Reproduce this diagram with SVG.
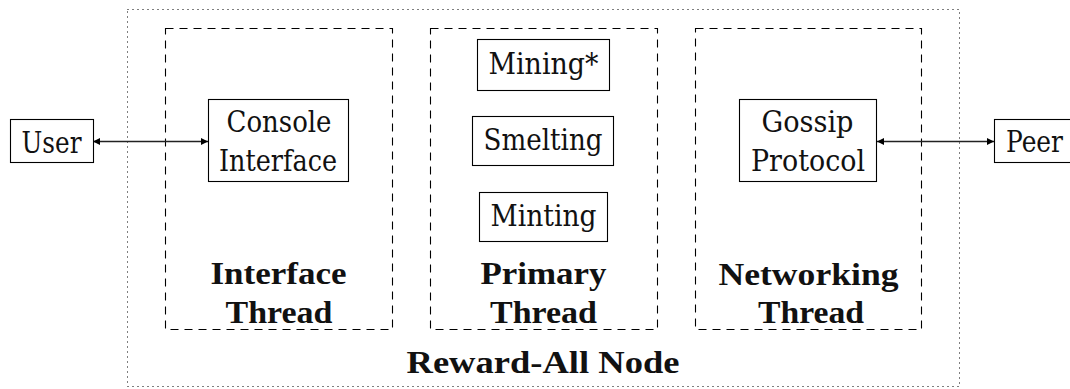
<svg xmlns="http://www.w3.org/2000/svg" width="1070" height="389" viewBox="0 0 1070 389">
  <style>
    .box { fill: #ffffff; stroke: #000000; stroke-width: 1.1; }
    .thread { fill: none; stroke: #000000; stroke-width: 1.1; stroke-dasharray: 8 6; }
    .outer { fill: none; stroke: #000000; stroke-width: 1.1; stroke-dasharray: 1 4; }
    .lbl { font-family: "DejaVu Serif", "Liberation Serif", serif; font-size: 29px; font-weight: normal; fill: #111111; text-anchor: middle; }
    .bold { font-family: "Liberation Serif", "DejaVu Serif", serif; font-size: 31px; font-weight: bold; fill: #111111; text-anchor: middle; }
    .conn { stroke: #222222; stroke-width: 1.3; fill: none; }
  </style>
  <defs>
    <marker id="arrow" viewBox="0 0 10 10" refX="10" refY="5" markerWidth="8" markerHeight="7" markerUnits="userSpaceOnUse" orient="auto-start-reverse">
      <path d="M0,0 L10,5 L0,10 Z" fill="#000000"/>
    </marker>
  </defs>

  <rect width="1070" height="389" fill="#ffffff"/>

  <g id="reward-all-node">
    <rect class="outer" x="127.5" y="9.5" width="832" height="377"/>
    <text class="bold" x="543" y="372.5" textLength="273" lengthAdjust="spacingAndGlyphs">Reward-All Node</text>
  </g>

  <g id="interface-thread">
    <rect class="thread" x="165.5" y="28.5" width="227" height="301"/>
    <text class="bold" x="278.5" y="284" textLength="136" lengthAdjust="spacingAndGlyphs">Interface</text>
    <text class="bold" x="279" y="322.5" textLength="107" lengthAdjust="spacingAndGlyphs">Thread</text>
  </g>

  <g id="primary-thread">
    <rect class="thread" x="430.5" y="28.5" width="227" height="301"/>
    <text class="bold" x="543.5" y="284" textLength="126" lengthAdjust="spacingAndGlyphs">Primary</text>
    <text class="bold" x="543.5" y="322.5" textLength="107" lengthAdjust="spacingAndGlyphs">Thread</text>
  </g>

  <g id="networking-thread">
    <rect class="thread" x="695.5" y="28.5" width="226" height="301"/>
    <text class="bold" x="808.5" y="284.5" textLength="180" lengthAdjust="spacingAndGlyphs">Networking</text>
    <text class="bold" x="811" y="322.5" textLength="106" lengthAdjust="spacingAndGlyphs">Thread</text>
  </g>

  <g id="connectors">
    <line class="conn" x1="93" y1="141.5" x2="208" y2="141.5" marker-start="url(#arrow)" marker-end="url(#arrow)"/>
    <line class="conn" x1="877" y1="141.5" x2="994" y2="141.5" marker-start="url(#arrow)" marker-end="url(#arrow)"/>
  </g>

  <g id="user">
    <rect class="box" x="10.5" y="119.5" width="83" height="43"/>
    <text class="lbl" x="51.5" y="152.5" textLength="60" lengthAdjust="spacingAndGlyphs">User</text>
  </g>

  <g id="console-interface">
    <rect class="box" x="208.5" y="99.5" width="140" height="82"/>
    <text class="lbl" x="279" y="131.5" textLength="105" lengthAdjust="spacingAndGlyphs">Console</text>
    <text class="lbl" x="278" y="171" textLength="118" lengthAdjust="spacingAndGlyphs">Interface</text>
  </g>

  <g id="mining">
    <rect class="box" x="477.5" y="39.5" width="132" height="51"/>
    <text class="lbl" x="543.5" y="73.5" textLength="110" lengthAdjust="spacingAndGlyphs">Mining*</text>
  </g>

  <g id="smelting">
    <rect class="box" x="472.5" y="116.5" width="141" height="49"/>
    <text class="lbl" x="543" y="149.5" textLength="119" lengthAdjust="spacingAndGlyphs">Smelting</text>
  </g>

  <g id="minting">
    <rect class="box" x="479.5" y="192.5" width="128" height="49"/>
    <text class="lbl" x="543.5" y="225.5" textLength="106" lengthAdjust="spacingAndGlyphs">Minting</text>
  </g>

  <g id="gossip-protocol">
    <rect class="box" x="739.5" y="99.5" width="137" height="82"/>
    <text class="lbl" x="807.5" y="132" textLength="92" lengthAdjust="spacingAndGlyphs">Gossip</text>
    <text class="lbl" x="808" y="171" textLength="114" lengthAdjust="spacingAndGlyphs">Protocol</text>
  </g>

  <g id="peer">
    <rect class="box" x="994.5" y="119.5" width="90" height="43"/>
    <text class="lbl" x="1034.5" y="152" textLength="57" lengthAdjust="spacingAndGlyphs">Peer</text>
  </g>
</svg>
